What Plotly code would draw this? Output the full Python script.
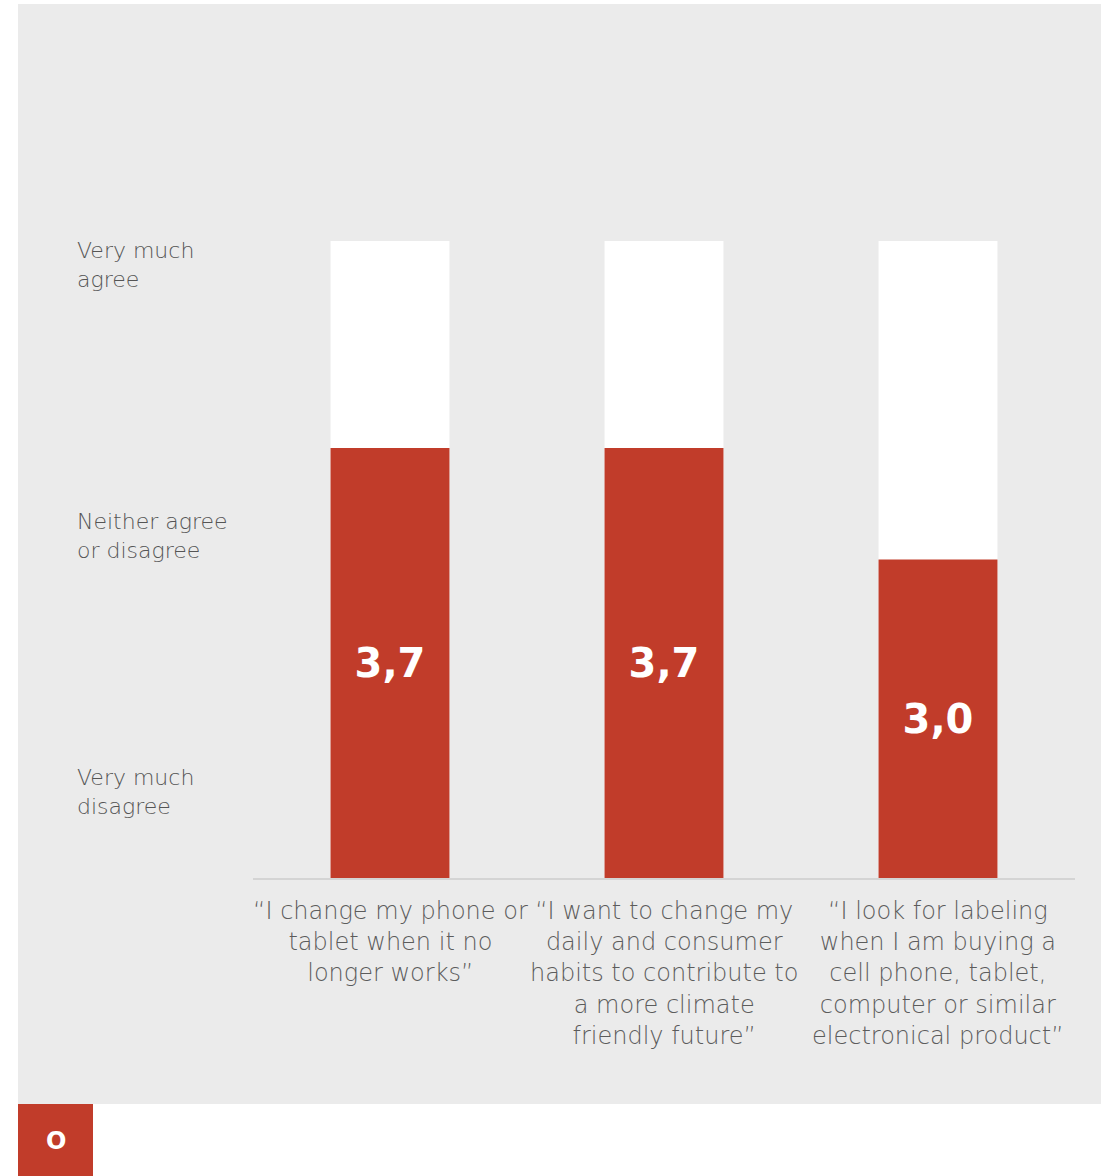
import plotly.graph_objects as go

categories = [
    "“I change my phone or<br>tablet when it no<br>longer works”",
    "“I want to change my<br>daily and consumer<br>habits to contribute to<br>a more climate<br>friendly future”",
    "“I look for labeling<br>when I am buying a<br>cell phone, tablet,<br>computer or similar<br>electronical product”",
]
values = [3.7, 3.7, 3.0]
value_labels = ["3,7", "3,7", "3,0"]
scale_max = 5
scale_min = 1
scale_labels = ["Very much<br>agree", "Neither agree<br>or disagree", "Very much<br>disagree"]
scale_label_pos = [4.85, 3.15, 1.54]

W, H = 1101, 1176
RED = "#C13C2A"
BG = "#EBEBEB"
TXT = "#5c5c5c"
FONT = "DejaVu Sans"

def px_y(p):
    return 1 - p / H

def px_x(p):
    return p / W

x_idx = list(range(len(categories)))

fig = go.Figure()
fig.add_trace(go.Bar(
    x=x_idx, y=[scale_max - scale_min] * len(x_idx), base=scale_min,
    marker=dict(color="white", line=dict(width=0)),
    hoverinfo="skip", showlegend=False,
))
fig.add_trace(go.Bar(
    x=x_idx, y=[v - scale_min for v in values], base=scale_min,
    marker=dict(color=RED, line=dict(width=0)),
    text=value_labels, textposition="inside", insidetextanchor="middle",
    textangle=0,
    textfont=dict(family=FONT, size=40, color="white", weight=700),
    hoverinfo="skip", showlegend=False,
))

annotations = []
for i, c in enumerate(categories):
    annotations.append(dict(
        x=i, xref="x", y=px_y(895), yref="paper", text=c, showarrow=False,
        xanchor="center", yanchor="top", align="center",
        font=dict(family=FONT, size=24, color=TXT, weight=200),
    ))
for lab, pos in zip(scale_labels, scale_label_pos):
    annotations.append(dict(
        x=px_x(75), xref="paper", y=pos, yref="y", text=lab, showarrow=False,
        xanchor="left", yanchor="middle", align="left",
        font=dict(family=FONT, size=22, color="#555555", weight=200),
    ))
annotations.append(dict(
    x=px_x(55.5), xref="paper", y=px_y(1141), yref="paper", text="O", showarrow=False,
    xanchor="center", yanchor="middle",
    font=dict(family=FONT, size=24, color="white", weight=600),
))

shapes = [
    dict(type="rect", xref="paper", yref="paper", x0=px_x(18), x1=1, y0=px_y(1104), y1=px_y(4),
         fillcolor=BG, line=dict(width=0), layer="below"),
    dict(type="rect", xref="paper", yref="paper", x0=px_x(18), x1=px_x(93), y0=0, y1=px_y(1104),
         fillcolor=RED, line=dict(width=0), layer="below"),
]

fig.update_layout(
    width=W, height=H,
    margin=dict(l=0, r=0, t=0, b=0),
    paper_bgcolor="white", plot_bgcolor="rgba(0,0,0,0)",
    barmode="overlay", bargap=0.566,
    xaxis=dict(domain=[px_x(253), px_x(1075)], range=[-0.5, 2.5],
               showticklabels=False, showgrid=False, zeroline=False,
               showline=True, linecolor="#D4D4D4", linewidth=2, ticks=""),
    yaxis=dict(domain=[px_y(878), px_y(241)], range=[scale_min, scale_max],
               showticklabels=False, showgrid=False, zeroline=False, showline=False),
    annotations=annotations, shapes=shapes,
)

fig.write_html("out.html")
